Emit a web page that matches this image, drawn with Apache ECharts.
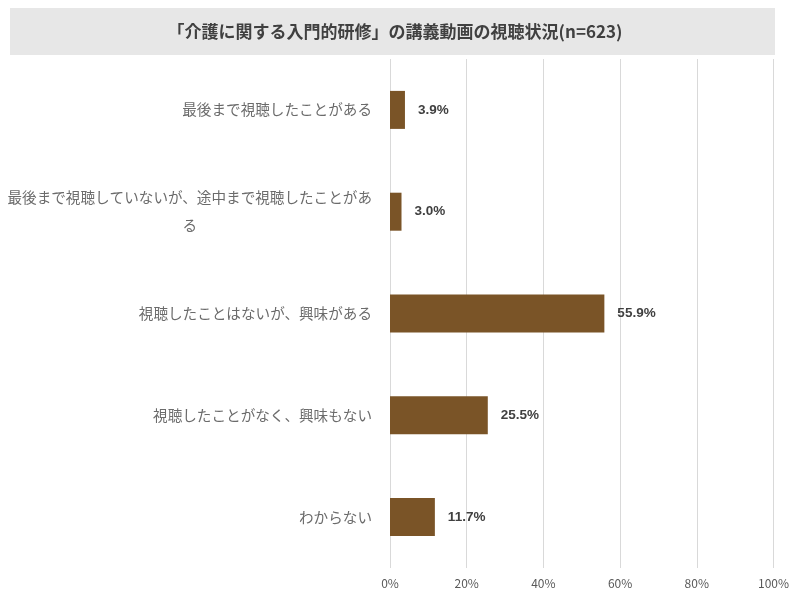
<!DOCTYPE html>
<html>
<head>
<meta charset="utf-8">
<script src="https://cdn.jsdelivr.net/npm/echarts@6/dist/echarts.min.js"></script>
<style>
  html, body { margin: 0; padding: 0; background: #fff; }
  #chart { width: 792px; height: 594px; }
</style>
</head>
<body>
<div id="chart"></div>
<script>
// Response categories (top to bottom)
const categories = [
  '最後まで視聴したことがある',
  '最後まで視聴していないが、途中まで視聴したことがある',
  '視聴したことはないが、興味がある',
  '視聴したことがなく、興味もない',
  'わからない'
];
// Share of respondents (%)
const values = [3.9, 3.0, 55.9, 25.5, 11.7];
const titleText = '「介護に関する入門的研修」の講義動画の視聴状況(n=623)';

const chart = echarts.init(document.getElementById('chart'));
const labelFont = '"Noto Sans CJK JP", "Noto Sans", sans-serif';

chart.setOption({
  animation: false,
  backgroundColor: '#ffffff',
  graphic: [
    {
      type: 'rect',
      shape: { x: 10, y: 8, width: 765, height: 47 },
      style: { fill: '#e7e7e7' },
      silent: true
    },
    {
      type: 'text',
      x: 395, y: 32,
      style: {
        text: titleText,
        fill: '#404040',
        font: 'bold 17px "Noto Sans CJK JP", sans-serif',
        textAlign: 'center',
        textVerticalAlign: 'middle'
      },
      silent: true
    }
  ],
  grid: { left: 390, right: 16, top: 59, bottom: 26 },
  xAxis: {
    type: 'value',
    min: 0, max: 100, interval: 20,
    axisLine: { show: false },
    axisTick: { show: false },
    splitLine: { lineStyle: { color: '#d9d9d9', width: 1 } },
    axisLabel: {
      formatter: '{value}%',
      color: '#595959',
      fontSize: 12,
      fontFamily: labelFont,
      margin: 9
    }
  },
  yAxis: {
    type: 'category',
    data: categories,
    inverse: true,
    axisLine: { show: false },
    axisTick: { show: false },
    axisLabel: {
      margin: 18,
      color: '#6b6b6b',
      fontSize: 14.6,
      fontFamily: labelFont,
      formatter: function (v) {
        // wrap the long label, centring the tail line under the first
        if (v.length > 25) {
          return '{a|' + v.slice(0, 25) + '}\n{b|' + v.slice(25) + '}';
        }
        return '{a|' + v + '}';
      },
      rich: {
        a: { color: '#6b6b6b', fontSize: 14.6, fontFamily: labelFont, lineHeight: 28 },
        b: { color: '#6b6b6b', fontSize: 14.6, fontFamily: labelFont, lineHeight: 28, align: 'center' }
      }
    }
  },
  series: [{
    type: 'bar',
    data: values,
    barWidth: 38,
    itemStyle: { color: '#7a5427' },
    label: {
      show: true,
      position: 'right',
      distance: 13,
      formatter: function (p) { return p.value.toFixed(1) + '%'; },
      color: '#404040',
      fontSize: 13.5,
      fontWeight: 'bold',
      fontFamily: '"Liberation Sans", Arial, sans-serif'
    }
  }]
});
</script>
</body>
</html>
